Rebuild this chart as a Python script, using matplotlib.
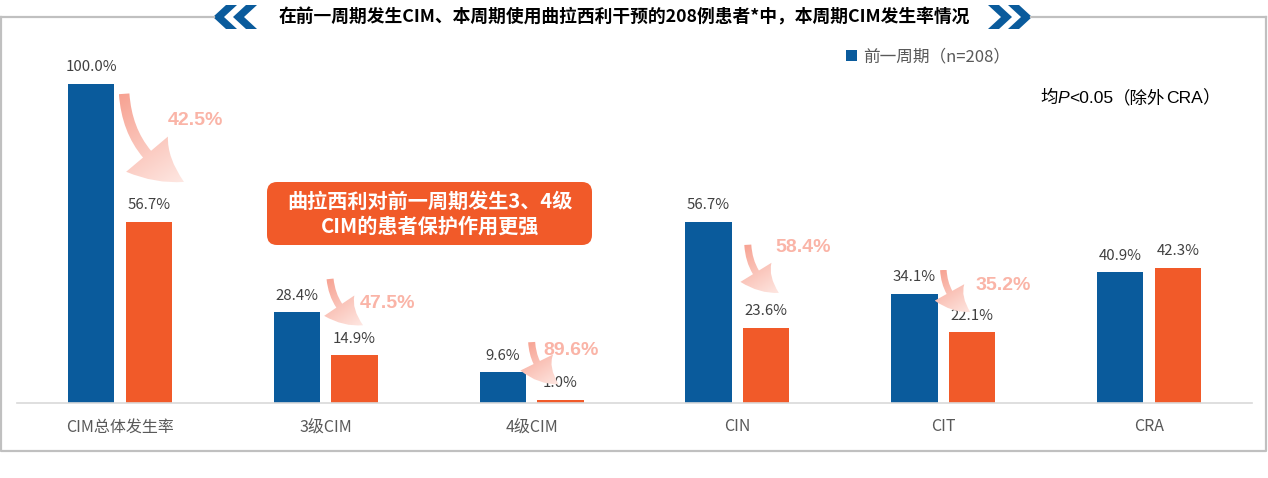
import matplotlib
matplotlib.use("Agg")
import numpy as np
import matplotlib.pyplot as plt
from matplotlib.patches import FancyArrowPatch, FancyBboxPatch, Polygon
from matplotlib.colors import LinearSegmentedColormap

plt.rcParams['font.family'] = ['Noto Sans CJK SC', 'DejaVu Sans']

categories = ['CIM总体发生率', '3级CIM', '4级CIM', 'CIN', 'CIT', 'CRA']
prev_cycle = [100.0, 28.4, 9.6, 56.7, 34.1, 40.9]
this_cycle = [56.7, 14.9, 1.0, 23.6, 22.1, 42.3]
reductions = ['42.5%', '47.5%', '89.6%', '58.4%', '35.2%']
legend_label = '前一周期（n=208）'
title = '在前一周期发生CIM、本周期使用曲拉西利干预的208例患者*中，本周期CIM发生率情况'
note = '曲拉西利对前一周期发生3、4级\nCIM的患者保护作用更强'
# "均P<0.05（除外CRA）" split by font
p_note = [('均', 'cjk', 'normal'), ('P', 'latin', 'italic'), ('<0.05', 'latin', 'normal'),
          ('（除外', 'cjk', 'normal'), ('CRA', 'latin', 'normal'), ('）', 'cjk', 'normal')]

BLUE = '#0a5b9c'
ORANGE = '#f15a29'
PINK = '#fab4a7'
CJK = ['Noto Sans CJK SC', 'DejaVu Sans']
LATIN = ['Liberation Sans', 'DejaVu Sans']

W, H = 1268, 478
fig = plt.figure(figsize=(W / 100, H / 100), dpi=100)

# overlay in pixel coords for frame / title decorations
ov = fig.add_axes([0, 0, 1, 1])
ov.set_xlim(0, W)
ov.set_ylim(H, 0)
ov.axis('off')

gray = '#c0c0c0'
ov.plot([1, 1, 1266, 1266], [17, 451, 451, 17], color=gray, lw=1.6)
ov.plot([1, 214], [17, 17], color=gray, lw=1.6)
ov.plot([1031, 1266], [17, 17], color=gray, lw=1.6)


def chevron(tip_x, yc, direction, w=24, t=11, h=24):
    d = direction
    pts = [(tip_x, yc), (tip_x + d * (w - t), yc - h / 2), (tip_x + d * w, yc - h / 2),
           (tip_x + d * t, yc), (tip_x + d * w, yc + h / 2), (tip_x + d * (w - t), yc + h / 2)]
    ov.add_patch(Polygon(pts, closed=True, color=BLUE, lw=0))


chevron(213, 17, 1)
chevron(233, 17, 1)
chevron(1032, 17, -1)
chevron(1012, 17, -1)

ov.text(624, 17, title, ha='center', va='center', fontsize=12.8, fontweight='bold', color='black')

# main chart
ax = fig.add_axes([17 / W, (H - 403) / H, (1252 - 17) / W, 383 / H])
ax.patch.set_alpha(0)
x = list(range(len(categories)))
bw = 0.225
off = 0.14
b1 = ax.bar([i - off for i in x], prev_cycle, bw, color=BLUE, label=legend_label, zorder=2)
b2 = ax.bar([i + off for i in x], this_cycle, bw, color=ORANGE, zorder=2)
ax.set_xlim(-0.5, len(categories) - 0.5)
ax.set_ylim(0, 120)
ax.set_yticks([])
for s in ['top', 'right', 'left']:
    ax.spines[s].set_visible(False)
ax.spines['bottom'].set_color('#d9d9d9')
ax.spines['bottom'].set_linewidth(1.2)
ax.set_xticks(x)
ax.set_xticklabels(categories, fontsize=11.5, color='#595959')
ax.tick_params(axis='x', length=0, pad=11)

for bars, vals in [(b1, prev_cycle), (b2, this_cycle)]:
    for rect, v in zip(bars, vals):
        ax.annotate(f'{v:.1f}%', (rect.get_x() + rect.get_width() / 2, v),
                    xytext=(0, 12), textcoords='offset points',
                    ha='center', va='center', fontsize=10.8, color='#404040')

# reduction arrows: (start, end, label position, size in px)
arrow_layout = [
    ((0.02, 97.5), (0.32, 69.0), (0.365, 88.4), 21),
    ((1.02, 39.5), (1.19, 24.1), (1.30, 31.3), 14),
    ((2.00, 19.7), (2.14, 5.6), (2.19, 16.6), 14),
    ((3.05, 50.2), (3.21, 34.2), (3.32, 48.6), 14),
    ((4.00, 42.3), (4.14, 28.2), (4.29, 36.7), 13),
]
cmap = LinearSegmentedColormap.from_list('pk', ['#f7a292', '#fee9e4'])
for (st, en, lp, ms), txt in zip(arrow_layout, reductions):
    arr = FancyArrowPatch(st, en, connectionstyle='arc3,rad=0.3',
                          arrowstyle='simple,head_width=2.6,head_length=2.2,tail_width=0.5',
                          mutation_scale=ms, lw=0)
    ax.add_patch(arr)
    arr.set_visible(False)
    verts = arr.get_path().vertices
    (x0, y0), (x1, y1) = verts.min(0), verts.max(0)
    X, Y = np.meshgrid(np.linspace(x0, x1, 120), np.linspace(y0, y1, 120))
    pts = ax.transData.transform(np.c_[X.ravel(), Y.ravel()])
    s = ax.transData.transform(st)
    v = ax.transData.transform(en) - s
    t = (((pts - s) @ v) / (v @ v)).reshape(X.shape).clip(0, 1)
    im = ax.imshow(t, extent=(x0, x1, y0, y1), origin='lower', cmap=cmap, vmin=0, vmax=1,
                   aspect='auto', interpolation='bilinear', zorder=3)
    im.set_clip_path(arr)
    ax.text(lp[0], lp[1], txt, ha='center', va='center', fontsize=14, fontweight='bold',
            color=PINK, family=LATIN, zorder=4)
ax.set_xlim(-0.5, len(categories) - 0.5)
ax.set_ylim(0, 120)

ax.legend(handles=[b1], loc='center left', bbox_to_anchor=(846 / W, 1 - 57 / H),
          bbox_transform=fig.transFigure, frameon=False, handlelength=0.65, handleheight=0.65,
          handletextpad=0.35, borderpad=0, borderaxespad=0,
          prop={'size': 12}, labelcolor='#595959')

# highlight box
ov.add_patch(FancyBboxPatch((267, 182), 325, 63, boxstyle='round,pad=0,rounding_size=10',
                            color=ORANGE, lw=0, zorder=5))
ov.text(430, 213.5, note, ha='center', va='center', fontsize=14.5, fontweight='bold',
        color='white', linespacing=1.25, zorder=6)

# P-value note, pieces laid out left to right
renderer = fig.canvas.get_renderer()
px = 1040
for piece, kind, style in p_note:
    tx = ov.text(px, 98, piece, ha='left', va='center', fontsize=12.6, color='black',
                 style=style, family=CJK if kind == 'cjk' else LATIN)
    bb = tx.get_window_extent(renderer)
    px += bb.width

fig.savefig('out.png', dpi=100)
